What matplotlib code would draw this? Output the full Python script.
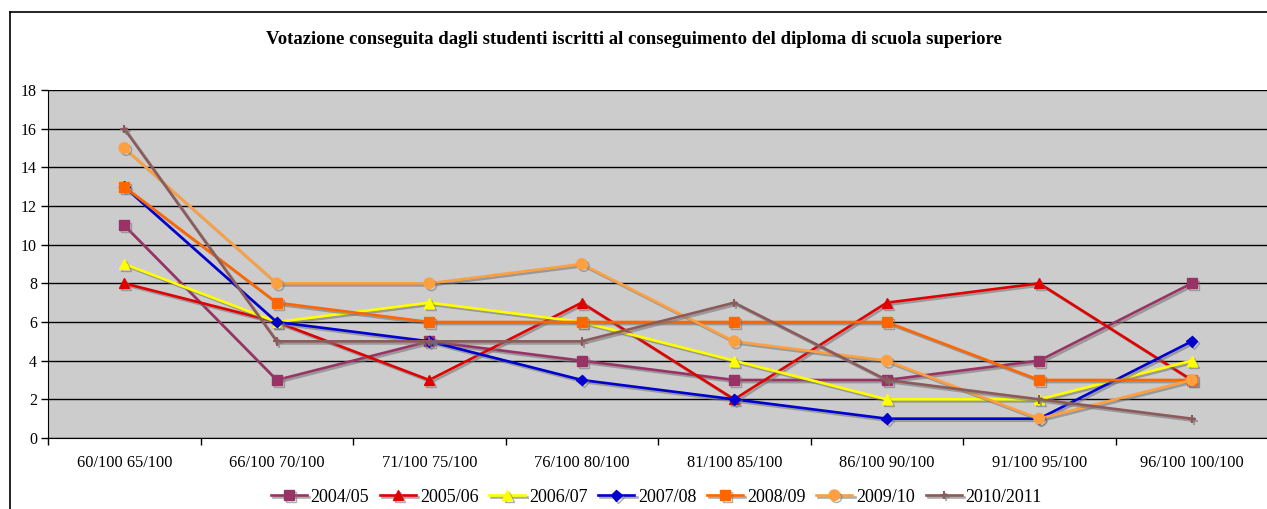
import numpy as np
import matplotlib
matplotlib.use("Agg")
from matplotlib import pyplot as plt
from matplotlib import patheffects as pe
from matplotlib.lines import Line2D

# categories (vote ranges)
categories = ["60/100 65/100", "66/100 70/100", "71/100 75/100", "76/100 80/100",
              "81/100 85/100", "86/100 90/100", "91/100 95/100", "96/100 100/100"]

# number of students per year
s_2004 = [11, 3, 5, 4, 3, 3, 4, 8]
s_2005 = [8, 6, 3, 7, 2, 7, 8, 3]
s_2006 = [9, 6, 7, 6, 4, 2, 2, 4]
s_2007 = [13, 6, 5, 3, 2, 1, 1, 5]
s_2008 = [13, 7, 6, 6, 6, 6, 3, 3]
s_2009 = [15, 8, 8, 9, 5, 4, 1, 3]
s_2010 = [16, 5, 5, 5, 7, 3, 2, 1]

series = [
    ("2004/05", s_2004, "#993366", "s", 7),
    ("2005/06", s_2005, "#E00000", "^", 7),
    ("2006/07", s_2006, "#FFFF00", "^", 7),
    ("2007/08", s_2007, "#0000D0", "D", 5.5),
    ("2008/09", s_2008, "#FF6600", "s", 7),
    ("2009/10", s_2009, "#FFA040", "o", 7.5),
    ("2010/2011", s_2010, "#8C5A5A", "+", 6),
]

plt.rcParams["font.family"] = ["Liberation Serif", "DejaVu Serif"]

fig = plt.figure(figsize=(12.67, 5.09), dpi=100)
ax = fig.add_axes([48 / 1267, 1 - 438 / 509, 1220 / 1267, 348 / 509])
ax.set_facecolor("#CCCCCC")

x = np.arange(len(categories)) + 0.5
shadow = [pe.SimpleLineShadow(offset=(1.5, -1.5), shadow_color="#777777", alpha=0.6), pe.Normal()]
for name, vals, col, mk, ms in series:
    ax.plot(x, vals, color=col, marker=mk, markersize=ms, linewidth=1.9,
            markeredgecolor=col, markeredgewidth=1.5 if mk == "+" else 1,
            label=name, path_effects=shadow, clip_on=False, zorder=3)

ax.set_xlim(0, len(categories))
ax.set_ylim(0, 18)
ax.set_yticks(np.arange(0, 19, 2))
ax.yaxis.grid(True, color="black", linewidth=1)
ax.set_axisbelow(True)

ax.set_xticks(np.arange(0, len(categories) + 1))
ax.set_xticklabels([])
ax.set_xticks(x, minor=True)
ax.set_xticklabels(categories, minor=True, fontsize=11.8)
ax.tick_params(axis="x", which="minor", length=0, pad=12)
ax.tick_params(axis="x", which="major", length=5, width=1, direction="out")
ax.tick_params(axis="y", length=5, width=1, labelsize=11.5, pad=3)

for sp in ["top", "right"]:
    ax.spines[sp].set_visible(False)
ax.spines["left"].set_color("black")
ax.spines["bottom"].set_color("black")

fig.text(0.5, 1 - 40 / 509, "Votazione conseguita dagli studenti iscritti al conseguimento del diploma di scuola superiore",
         ha="center", va="center", fontsize=13.5, fontweight="bold")

# outer chart border
fig.add_artist(Line2D([10 / 1267, 1.0], [1 - 12 / 509] * 2, color="black", linewidth=1.2))
fig.add_artist(Line2D([10 / 1267] * 2, [0, 1 - 12 / 509], color="black", linewidth=1.2))

fig.legend(loc="center", bbox_to_anchor=(0.518, 1 - 497 / 509), ncol=7, frameon=False,
           fontsize=13, handlelength=2.0, handletextpad=0.2, columnspacing=0.6)

fig.savefig("out.png", dpi=100)
